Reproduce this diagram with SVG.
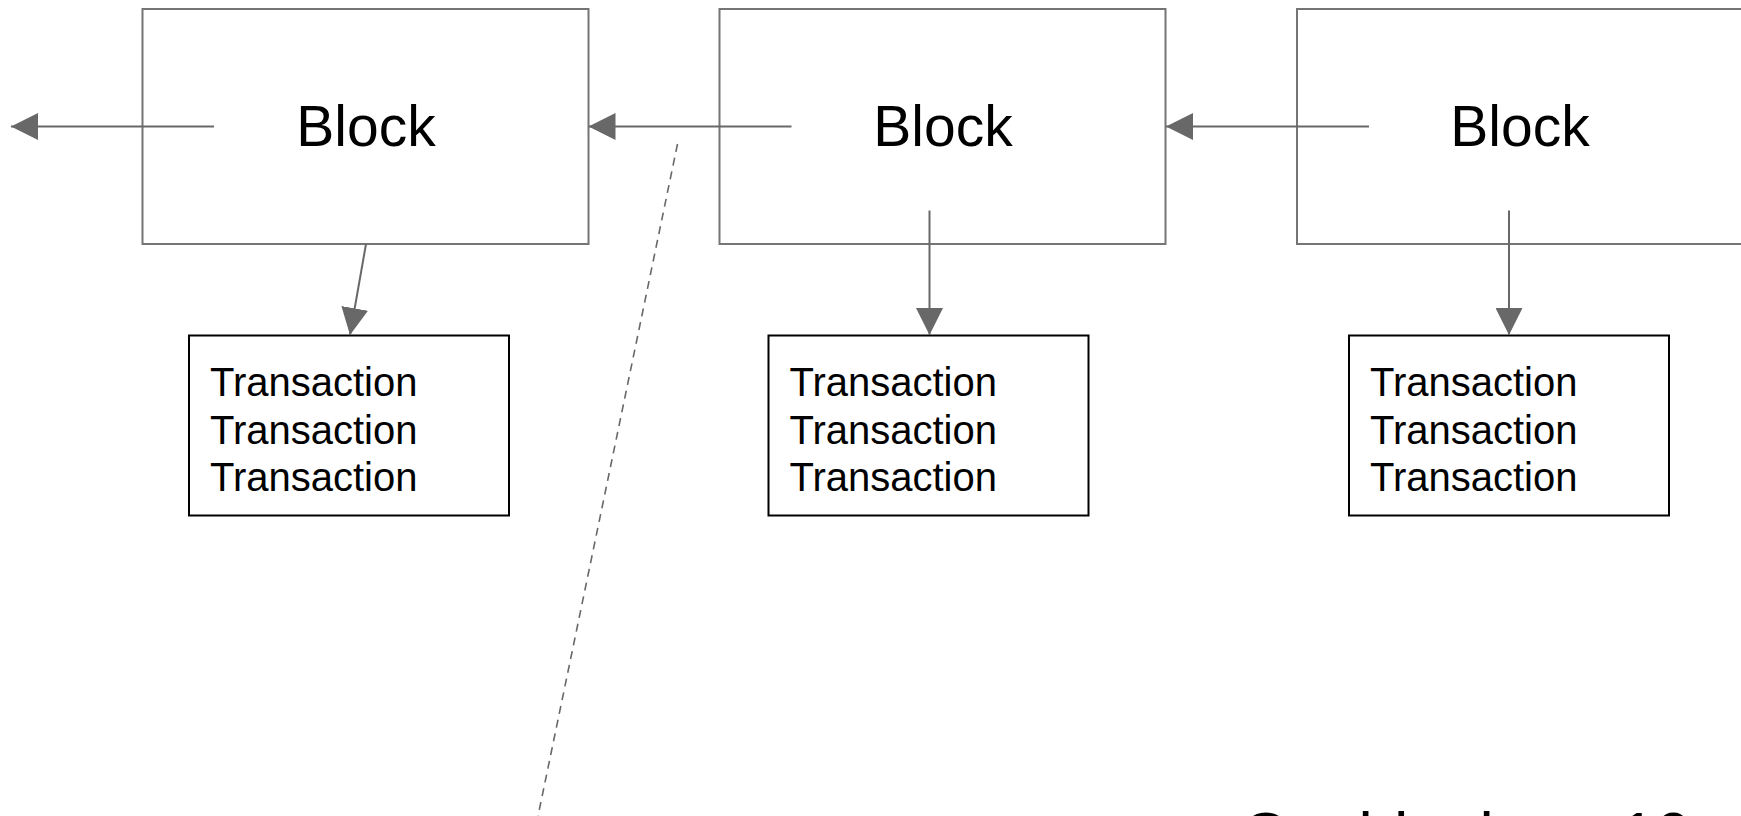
<svg xmlns="http://www.w3.org/2000/svg" width="1741" height="816" viewBox="0 0 1741 816">
<defs>
<style>
.block{fill:#ffffff;stroke:#757575;stroke-width:2}
.tx{fill:#ffffff;stroke:#000000;stroke-width:2}
.btxt{font-family:"Liberation Sans",Arial,sans-serif;font-size:57px;fill:#000000;text-anchor:middle}
.ttxt{font-family:"Liberation Sans",Arial,sans-serif;font-size:40px;fill:#000000}
.note{font-family:"Liberation Sans",Arial,sans-serif;font-size:64px;fill:#000000}
.conn{fill:none;stroke:#686868;stroke-width:2}
.dash{fill:none;stroke:#686868;stroke-width:1.6;stroke-dasharray:8 6}
</style>
<marker id="ah" viewBox="0 0 27 27" refX="27" refY="13.5" markerWidth="27" markerHeight="27" markerUnits="userSpaceOnUse" orient="auto">
<path d="M0,0 L27,13.5 L0,27 z" fill="#686868"/>
</marker>
</defs>
<rect width="1741" height="816" fill="#ffffff"/>
<g id="block1"><rect class="block" x="142.5" y="9" width="446" height="235"/><text class="btxt" x="366" y="146">Block</text></g>
<g id="block2"><rect class="block" x="719.5" y="9" width="446" height="235"/><text class="btxt" x="943" y="146">Block</text></g>
<g id="block3"><rect class="block" x="1297" y="9" width="446" height="235"/><text class="btxt" x="1520" y="146">Block</text></g>
<g id="tx1"><rect class="tx" x="189" y="335.5" width="320" height="180"/>
<text class="ttxt" x="210" y="396">Transaction</text><text class="ttxt" x="210" y="443.5">Transaction</text><text class="ttxt" x="210" y="491">Transaction</text></g>
<g id="tx2"><rect class="tx" x="768.5" y="335.5" width="320" height="180"/>
<text class="ttxt" x="789.5" y="396">Transaction</text><text class="ttxt" x="789.5" y="443.5">Transaction</text><text class="ttxt" x="789.5" y="491">Transaction</text></g>
<g id="tx3"><rect class="tx" x="1349" y="335.5" width="320" height="180"/>
<text class="ttxt" x="1370" y="396">Transaction</text><text class="ttxt" x="1370" y="443.5">Transaction</text><text class="ttxt" x="1370" y="491">Transaction</text></g>
<g id="note"><text class="note" x="1241" y="858">Could take ~ 10</text></g>
<g id="connectors">
<path class="conn" d="M214,126.5 L11,126.5" marker-end="url(#ah)"/>
<path class="conn" d="M791.5,126.5 L588.5,126.5" marker-end="url(#ah)"/>
<path class="conn" d="M1369,126.5 L1166,126.5" marker-end="url(#ah)"/>
<path class="conn" d="M366,244 L350,335" marker-end="url(#ah)"/>
<path class="conn" d="M929.5,210.5 L929.5,335" marker-end="url(#ah)"/>
<path class="conn" d="M1509,210.5 L1509,335" marker-end="url(#ah)"/>
<path class="dash" d="M677.5,144 L538,816"/>
</g>
</svg>
